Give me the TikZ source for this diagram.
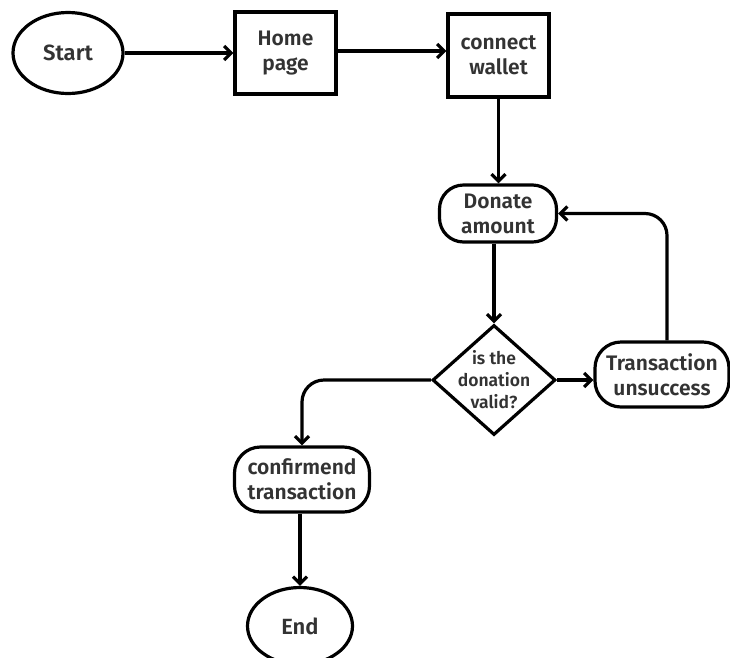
\documentclass[tikz,border=0pt]{standalone}
\usepackage{fontspec}
\setmainfont{Fira Sans}[BoldFont={Fira Sans SemiBold}]
\usetikzlibrary{arrows.meta,shapes.geometric}
\definecolor{txt}{HTML}{333333}
\tikzset{
  base/.style={draw=black, line width=3.2pt, text=txt, font=\bfseries\fontsize{21}{25}\selectfont, align=center, inner sep=0pt},
  oval/.style={base, ellipse, font=\bfseries\fontsize{22}{25}\selectfont},
  boxnode/.style={base, rectangle},
  pill/.style={base, rectangle, rounded corners=26pt},
  decide/.style={base, diamond, inner sep=-14pt, font=\bfseries\fontsize{17.5}{22}\selectfont},
  arr/.style={line width=3.2pt, -{Straight Barb[length=7pt,width=14pt,line width=3.2pt]}},
}
\begin{document}
\begin{tikzpicture}[x=1pt,y=-1pt]
\fill[white] (0,0) rectangle (730,657);
\clip (0,0) rectangle (730,657);
\useasboundingbox (0,0) rectangle (730,657);
\node[oval, minimum width=110pt, minimum height=81pt] (start) at (68,53) {Start};
\node[boxnode, minimum width=101pt, minimum height=82pt] (home) at (285.5,53) {Home\\page};
\node[boxnode, minimum width=101pt, minimum height=83pt] (wallet) at (498.5,55.5) {connect\\wallet};
\node[pill, minimum width=117pt, minimum height=57pt, rounded corners=24pt] (donate) at (498,213.5) {Donate\\amount};
\node[decide, minimum width=123pt, minimum height=110pt] (valid) at (494,380) {is the\\donation\\valid?};
\node[pill, minimum width=134pt, minimum height=65pt] (fail) at (662,374.5) {Transaction\\unsuccess};
\node[pill, minimum width=135pt, minimum height=65pt] (ok) at (302,479.5) {confirmend\\transaction};
\node[oval, minimum width=105pt, minimum height=77pt] (end) at (300,626) {End};

\draw[arr] (start.east) -- (start.east -| home.west);
\draw[arr] ([yshift=2pt]home.east) -- ([yshift=2pt]home.east -| wallet.west);
\draw[arr] (wallet.south) -- (wallet.south |- donate.north);
\draw[arr] (valid.north |- donate.south) -- (valid.north);
\draw[arr] (valid.east) -- (valid.east -| fail.west);
\draw[arr, rounded corners=22pt] ([xshift=5pt]fail.north) |- (donate.east);
\draw[arr, rounded corners=22pt] (valid.west) -| (ok.north);
\draw[arr] (end.north |- ok.south) -- (end.north);
\end{tikzpicture}
\end{document}
